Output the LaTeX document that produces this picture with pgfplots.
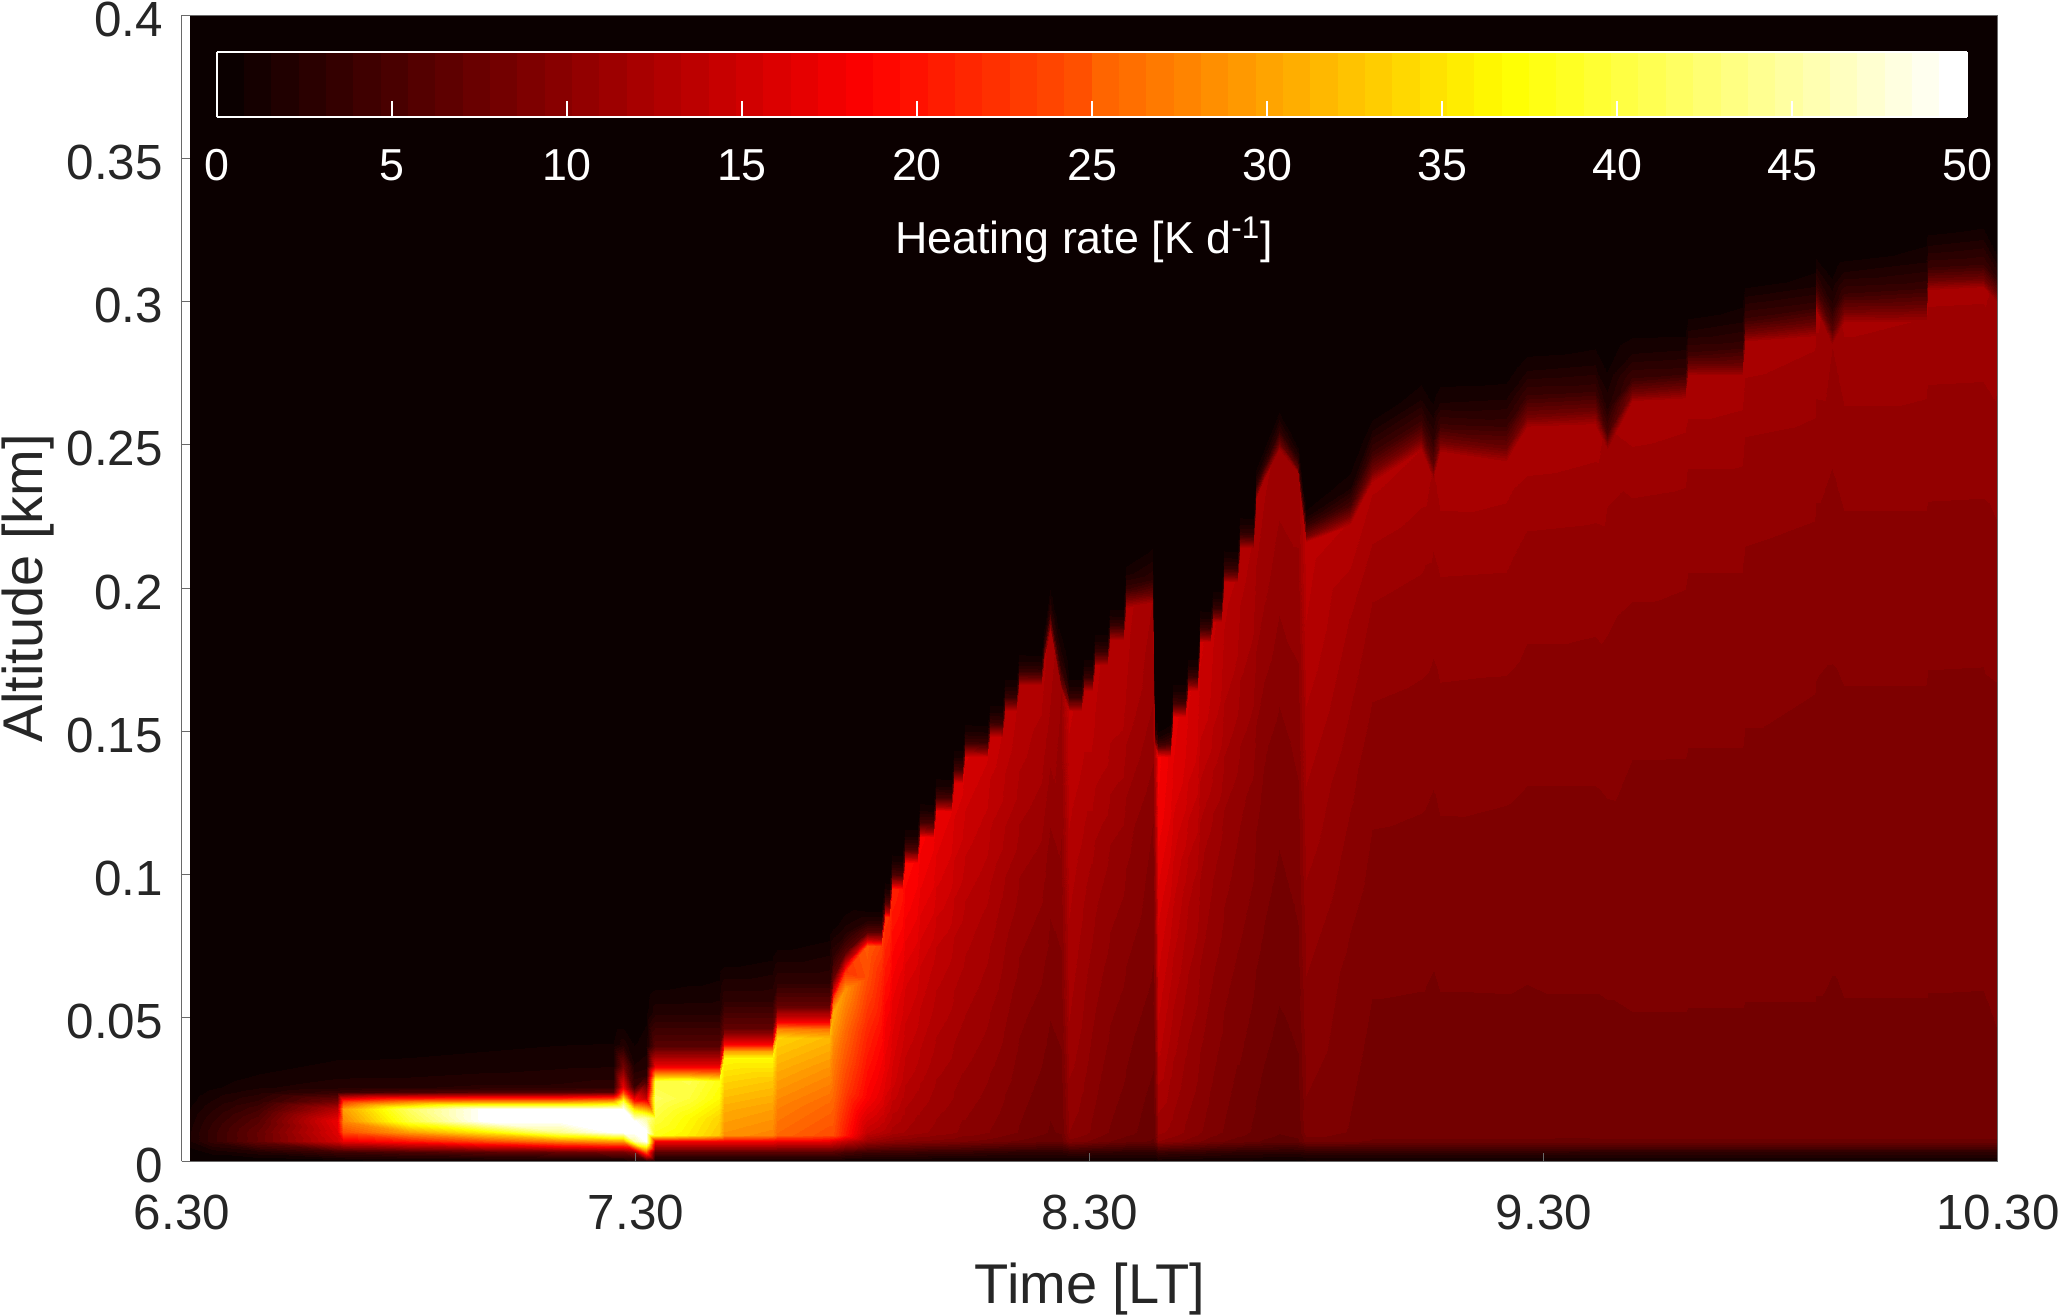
\documentclass[border=0pt]{standalone}
\usepackage{fontspec}
\setmainfont{Liberation Sans}
\usepackage{pgfplots}
\pgfplotsset{compat=1.18}
\definecolor{tc}{RGB}{38,38,38}
\definecolor{fr}{RGB}{105,105,105}
\pgfplotsset{
  colormap={hotbase}{rgb(0pt)=(0.0417,0,0); rgb(23pt)=(1,0,0); rgb(47pt)=(1,1,0); rgb(63pt)=(1,1,1)},
  colormap={hot64}{samples of colormap=(65 of hotbase)},
}
\newcommand{\cbfont}{\fontsize{22.4}{26}\selectfont}
\newcommand{\tickfont}{\fontsize{24.7}{28}\selectfont}
\newcommand{\labfont}{\fontsize{28}{32}\selectfont}
\begin{document}
\begin{tikzpicture}
\path[use as bounding box] (-91pt,-76.5pt) rectangle (938pt,580.5pt);
\begin{axis}[
  at={(0,0)}, anchor=south west,
  scale only axis, width=908pt, height=573pt,
  view={0}{90},
  xmin=0, xmax=240, ymin=0, ymax=400,
  xtick={0,60,120,180,240},
  xticklabels={6.30,7.30,8.30,9.30,10.30},
  ytick={0,50,100,150,200,250,300,350,400},
  yticklabels={0,0.05,0.1,0.15,0.2,0.25,0.3,0.35,0.4},
  ztick=\empty,
  tick align=inside, tick pos=left, major tick length=4pt,
  tick style={fr, line width=0.5pt},
  axis line style={fr, line width=0.5pt},
  axis on top,
  tick label style={font=\tickfont, text=tc},
  xticklabel style={yshift=-13.5pt},
  yticklabel style={xshift=-6pt, yshift=-2pt},
  xlabel={Time [LT]}, ylabel={Altitude [km]},
  label style={font=\labfont, text=tc},
  xlabel style={yshift=-9.6pt},
  ylabel shift=-0.6pt,
  colormap name=hot64,
  colormap access=piecewise constant,
  point meta min=0, point meta max=50,
  colorbar horizontal, colorbar sampled,
  colorbar style={
    at={(parent axis.north west)}, anchor=north west, xshift=17.5pt, yshift=-10pt,
    scale only axis, width=875pt, height=32.5pt,
    samples=65,
    xtick={0,5,10,15,20,25,30,35,40,45,50},
    xticklabels={0,5,10,15,20,25,30,35,40,45,50},
    ytick=\empty,
    tick align=inside, xtick pos=bottom, major tick length=8pt,
    tick style={white, line width=0.6pt},
    axis line style={white, line width=0.8pt},
    tick label style={font=\cbfont, text=white},
    xticklabel style={yshift=-12.6pt},
    xlabel={Heating rate [K d\textsuperscript{-1}]},
    xlabel style={font=\cbfont, text=white, yshift=-11.2pt, xshift=-4pt},
  },
]
% t = minutes after 6.30, h = altitude in m, v = heating rate
\addplot3[surf, shader=interp, mesh/ordering=y varies, mesh/rows=13] table[header=false] {
1 0 0
1 3 .3
1 7 1.5
1 10 1.5
1 14 1.2
1 18 .8
1 21 .5
1 24 .2
1 26 .1
1 28 0
1 30 0
1 32 0
1 400 0
4 0 0
4 3 1
4 7 3.5
4 10 3.5
4 14 3
4 18 2.2
4 21 1.6
4 24 1
4 26 .6
4 30 .2
4 33 0
4 35 0
4 400 0
10 0 0
10 3 2
10 7 7
10 10 7
10 14 6
10 18 4.5
10 21 3.2
10 24 2
10 26 1.4
10 30 .8
10 35 .3
10 40 0
10 400 0
20.5 0 .3
20.5 3 4
20.5 7 15
20.5 10 16
20.5 14 17
20.5 18 13
20.5 21 8
20.5 24 3.5
20.5 26 2
20.5 31 1.2
20.5 37 .6
20.5 42 0
20.5 400 0
21.3 0 .3
21.3 3 4
21.3 7 17
21.3 10 24
21.3 14 28
21.3 18 30
21.3 21 22
21.3 24 4
21.3 26 2
21.3 31 1.2
21.3 37 .6
21.3 42 0
21.3 400 0
30 0 .5
30 3 5
30 7 20
30 10 30
30 14 40
30 18 42
30 21 27
30 24 5
30 26 2.2
30 31 1.2
30 38 .6
30 43 0
30 400 0
40 0 .5
40 3 6
40 7 24
40 10 36
40 14 50
40 18 50
40 21 28
40 24 5.5
40 26 2.5
40 32 1.3
40 39 .7
40 45 0
40 400 0
50 0 .5
50 3 7
50 7 28
50 10 44
50 14 50
50 18 50
50 21 28
50 24 5.5
50 26 2.5
50 33 1.4
50 40 .8
50 47 0
50 400 0
57 0 .6
57 3 8
57 7 30
57 10 50
57 14 50
57 18 50
57 21 30
57 24 6
57 26 2.8
57 33 1.5
57 41 .8
57 50 0
57 400 0
58.3 0 .6
58.3 3 8
58.3 7 30
58.3 10 50
58.3 14 50
58.3 18 50
58.3 21 40
58.3 24 24
58.3 26 17
58.3 33 8
58.3 41 2
58.3 50 0
58.3 400 0
59.8 0 1
59.8 3 10
59.8 7 45
59.8 10 50
59.8 14 50
59.8 18 35
59.8 21 20
59.8 24 9
59.8 26 4
59.8 33 1.6
59.8 41 .7
59.8 52 0
59.8 400 0
61.3 0 2
61.3 3 25
61.3 7 50
61.3 10 50
61.3 15 45
61.3 22 14
61.3 28 5
61.3 30 3
61.3 33 2
61.3 40 1.2
61.3 52 .5
61.3 62 0
61.3 400 0
62.5 0 .5
62.5 3 6
62.5 7 18
62.5 9 38
62.5 15 40
62.5 22 42
62.5 28 40
62.5 30 30
62.5 33 17
62.5 40 6
62.5 52 2
62.5 65 0
62.5 400 0
67 0 .5
67 3 6
67 7 18
67 9 36
67 15 37
67 22 40
67 28 41
67 30 30
67 33 17
67 40 6
67 52 2
67 67 0
67 400 0
71 0 .5
71 3 6
71 7 18
71 9 33
71 15 34
71 22 37
71 28 38
71 30 29
71 33 17
71 40 6
71 52 2
71 70 0
71 400 0
71.6 0 .5
71.6 3 6
71.6 7 18
71.6 9 29
71.6 18 31
71.6 28 34
71.6 36 37
71.6 38.5 30
71.6 41 18
71.6 46 7
71.6 56 3
71.6 72 0
71.6 400 0
78 0 .5
78 3 6
78 7 18
78 9 28
78 18 30
78 28 33
78 36 37
78 38.5 30
78 41 18
78 46 7
78 56 3
78 75 0
78 400 0
78.6 0 .5
78.6 3 6
78.6 7 17
78.6 9 26
78.6 20 28
78.6 32 31
78.6 43 34
78.6 46 28
78.6 49 17
78.6 54 7
78.6 62 3
78.6 78 0
78.6 400 0
85.5 0 .5
85.5 3 6
85.5 7 17
85.5 9 24
85.5 20 26
85.5 32 29
85.5 43 32
85.5 46 27
85.5 49 17
85.5 54 7
85.5 62 3
85.5 82 0
85.5 400 0
86 0 .5
86 3 6
86 7 16
86 9 24
86 23 26
86 38 28
86 52 31
86 56 25
86 59 16
86 64 7
86 72 3
86 84 0
86 400 0
87.6 0 .5
87.6 3 5
87.6 7 14
87.6 9 20
87.6 25 23
87.6 45 26
87.6 60 29
87.6 66 22
87.6 69 14
87.6 73 6
87.6 80 2
87.6 90 0
87.6 400 0
90.5 0 .5
90.5 3 4
90.5 7 11
90.5 10 14
90.5 22 18
90.5 45 21
90.5 64 24
90.5 75 25
90.5 77 15
90.5 80 6
90.5 84 2
90.5 89 0
90.5 400 0
92.4 0 .5
92.4 3 4
92.4 7 10.3
92.4 10 13
92.4 22 16.3
92.4 45 19
92.4 64 21
92.4 75 23
92.4 77 14
92.4 80 6
92.4 84 2
92.4 89 0
92.4 400 0
92.9 0 .5
92.9 3 4
92.9 7 10
92.9 10 12.8
92.9 26 16
92.9 51 18
92.9 72 20.5
92.9 85 22
92.9 87 14
92.9 90 6
92.9 94 2
92.9 99 0
92.9 400 0
93.4 0 .5
93.4 3 4
93.4 7 9.9
93.4 10 12.4
93.4 26 15.5
93.4 51 17.5
93.4 72 20
93.4 85 21.5
93.4 87 13.5
93.4 90 5.6
93.4 94 1.8
93.4 99 0
93.4 400 0
93.8 0 .5
93.8 3 4
93.8 7 9.8
93.8 10 12
93.8 28 15
93.8 57 17
93.8 81 19.3
93.8 95 20.8
93.8 97 13
93.8 100 5.5
93.8 104 1.8
93.8 109 0
93.8 400 0
95.2 0 .5
95.2 3 4
95.2 7 9.5
95.2 10 11.6
95.2 28 13.8
95.2 57 15.8
95.2 81 18.4
95.2 95 19.6
95.2 97 12.6
95.2 100 5.2
95.2 104 1.7
95.2 109 0
95.2 400 0
95.6 0 .5
95.6 3 4
95.6 7 9.5
95.6 10 11.5
95.6 31 13.5
95.6 62 15.5
95.6 88 18
95.6 104 19
95.6 106 12.3
95.6 109 5.1
95.6 113 1.6
95.6 118 0
95.6 400 0
97.2 0 .5
97.2 3 3.8
97.2 7 9.2
97.2 10 11
97.2 31 12.9
97.2 62 14.8
97.2 88 17.2
97.2 104 18.2
97.2 106 11.8
97.2 109 5
97.2 113 1.6
97.2 118 0
97.2 400 0
97.6 0 .5
97.6 3 3.8
97.6 7 9.2
97.6 10 11
97.6 34 12.8
97.6 68 14.6
97.6 96 17
97.6 113 18
97.6 115 11.7
97.6 118 4.9
97.6 122 1.6
97.6 127 0
97.6 400 0
99.3 0 .5
99.3 3 3.5
99.3 7 9
99.3 10 10.6
99.3 34 12.1
99.3 68 13.8
99.3 96 16.2
99.3 113 17.2
99.3 115 11.2
99.3 118 4.7
99.3 122 1.5
99.3 127 0
99.3 400 0
99.7 0 .5
99.7 3 3.5
99.7 7 9
99.7 10 10.5
99.7 37 12
99.7 73 13.7
99.7 104 16
99.7 122 17
99.7 124 11.1
99.7 127 4.6
99.7 131 1.5
99.7 136 0
99.7 400 0
101.6 0 .5
101.6 3 3.5
101.6 7 8.8
101.6 10 10.2
101.6 37 11.6
101.6 73 13.2
101.6 104 15.2
101.6 122 16.2
101.6 124 10.6
101.6 127 4.4
101.6 131 1.4
101.6 136 0
101.6 400 0
102 0 .5
102 3 3.5
102 7 8.8
102 10 10.1
102 40 11.5
102 79 13.1
102 112 15
102 132 16
102 134 10.5
102 137 4.4
102 141 1.4
102 146 0
102 400 0
103.1 0 .5
103.1 3 3.5
103.1 7 8.5
103.1 10 9.8
103.1 40 11.2
103.1 79 12.8
103.1 112 14.6
103.1 132 15.6
103.1 134 10.3
103.1 137 4.3
103.1 141 1.4
103.1 146 0
103.1 400 0
103.5 0 .5
103.5 3 3.5
103.5 7 8.5
103.5 10 9.8
103.5 42 11.2
103.5 85 12.8
103.5 120 14.5
103.5 141 15.5
103.5 143 10.2
103.5 146 4.2
103.5 150 1.4
103.5 155 0
103.5 400 0
106.4 0 .5
106.4 3 3.2
106.4 7 8.2
106.4 10 9.3
106.4 42 10.6
106.4 85 12.1
106.4 120 13.7
106.4 141 14.7
106.4 143 9.7
106.4 146 4
106.4 150 1.3
106.4 155 0
106.4 400 0
106.8 0 .5
106.8 3 3.2
106.8 7 8.2
106.8 10 9.2
106.8 44 10.5
106.8 89 12
106.8 126 13.5
106.8 148 14.5
106.8 150 9.6
106.8 153 4
106.8 157 1.3
106.8 162 0
106.8 400 0
108.4 0 .5
108.4 3 3.1
108.4 7 7.9
108.4 10 8.9
108.4 44 10.1
108.4 89 11.4
108.4 126 13.1
108.4 148 13.8
108.4 150 9.2
108.4 153 3.8
108.4 157 1.2
108.4 162 0
108.4 400 0
108.8 0 .5
108.8 3 3.1
108.8 7 7.8
108.8 10 8.8
108.8 47 10
108.8 94 11.3
108.8 133 13
108.8 157 13.7
108.8 159 9.1
108.8 162 3.8
108.8 166 1.2
108.8 171 0
108.8 400 0
110.2 0 .5
110.2 3 3
110.2 7 7.6
110.2 10 8.5
110.2 47 9.5
110.2 94 10.9
110.2 133 12.6
110.2 157 13.1
110.2 159 8.8
110.2 162 3.6
110.2 166 1.2
110.2 171 0
110.2 400 0
110.6 0 .5
110.6 3 3
110.6 7 7.6
110.6 10 8.4
110.6 50 9.4
110.6 100 10.8
110.6 141 12.5
110.6 166 13
110.6 168 8.7
110.6 171 3.6
110.6 175 1.2
110.6 180 0
110.6 400 0
113.5 0 .5
113.5 3 3
113.5 7 7.2
113.5 10 7.9
113.5 50 8.9
113.5 100 10.3
113.5 141 11.9
113.5 166 12.6
113.5 168 8.5
113.5 171 3.5
113.5 175 1.1
113.5 180 0
113.5 400 0
113.9 0 .5
113.9 3 3
113.9 7 7.2
113.9 10 7.8
113.9 52 8.8
113.9 105 10.2
113.9 149 11.8
113.9 175 12.5
113.9 177 8.4
113.9 180 3.5
113.9 184 1.1
113.9 190 0
113.9 400 0
114.7 0 .5
114.7 3 3
114.7 7 7
114.7 10 7.6
114.7 55 8.6
114.7 111 9.8
114.7 157 11.5
114.7 185 12
114.7 188 7.5
114.7 192 3
114.7 198 1
114.7 205 0
114.7 400 0
116.2 0 .5
116.2 3 3
116.2 7 7.2
116.2 10 7.8
116.2 50 8.7
116.2 99 9.8
116.2 140 10.4
116.2 165 10.8
116.2 167 7
116.2 172 3
116.2 180 1
116.2 195 0
116.2 400 0
117.2 0 .5
117.2 3 3.5
117.2 7 9
117.2 10 10
117.2 47 11.5
117.2 94 12.5
117.2 133 13.5
117.2 157 14
117.2 159 9
117.2 162 3.8
117.2 166 1.2
117.2 171 0
117.2 400 0
118.8 0 .5
118.8 3 3.4
118.8 7 8.7
118.8 10 9.6
118.8 47 10.8
118.8 94 11.8
118.8 133 13
118.8 157 13.5
118.8 159 9
118.8 162 3.8
118.8 166 1.2
118.8 171 0
118.8 400 0
119.2 0 .5
119.2 3 3.4
119.2 7 8.6
119.2 10 9.5
119.2 49 10.6
119.2 98 11.7
119.2 139 13
119.2 164 13.5
119.2 166 9
119.2 169 3.8
119.2 173 1.2
119.2 178 0
119.2 400 0
120.2 0 .5
120.2 3 3.2
120.2 7 8.3
120.2 10 9.1
120.2 49 10.1
120.2 98 11.3
120.2 139 13
120.2 164 13.3
120.2 166 8.9
120.2 169 3.7
120.2 173 1.2
120.2 178 0
120.2 400 0
120.6 0 .5
120.6 3 3.2
120.6 7 8.2
120.6 10 9
120.6 52 10
120.6 104 11.2
120.6 147 13
120.6 173 13.2
120.6 175 8.8
120.6 178 3.7
120.6 182 1.2
120.6 187 0
120.6 400 0
122.3 0 .5
122.3 3 3.1
122.3 7 7.8
122.3 10 8.5
122.3 52 9.5
122.3 104 10.8
122.3 147 12.7
122.3 173 12.9
122.3 175 8.6
122.3 178 3.6
122.3 182 1.2
122.3 187 0
122.3 400 0
122.7 0 .5
122.7 3 3.1
122.7 7 7.7
122.7 10 8.4
122.7 55 9.4
122.7 109 10.7
122.7 155 12.7
122.7 182 12.8
122.7 184 8.6
122.7 187 3.6
122.7 191 1.1
122.7 196 0
122.7 400 0
124.4 0 .5
124.4 3 3
124.4 7 7.4
124.4 10 8.1
124.4 55 9.1
124.4 109 10.4
124.4 155 12.5
124.4 182 12.6
124.4 184 8.4
124.4 187 3.5
124.4 191 1.1
124.4 196 0
124.4 400 0
124.8 0 .5
124.8 3 3
124.8 7 7.3
124.8 10 8
124.8 58 9
124.8 116 10.3
124.8 164 12.3
124.8 193 12.6
124.8 196 8
124.8 200 3.5
124.8 206 1
124.8 213 0
124.8 400 0
128.3 0 .5
128.3 3 3
128.3 7 6.8
128.3 10 7.2
128.3 58 8.3
128.3 117 9.2
128.3 166 11
128.3 195 11.5
128.3 198 7.5
128.3 203 3
128.3 212 1
128.3 222 0
128.3 400 0
128.6 0 .4
128.6 3 3
128.6 7 7.5
128.6 10 8
128.6 44 9.3
128.6 87 10.6
128.6 123 12.2
128.6 145 12.5
128.6 147 7
128.6 149 3
128.6 153 1
128.6 158 0
128.6 400 0
129 0 1
129 3 4
129 7 10
129 10 11
129 42 13.5
129 85 15.5
129 120 17.5
129 141 18
129 143 11
129 145 5
129 148 1.5
129 152 0
129 400 0
130.6 0 .6
130.6 3 3.7
130.6 7 9.6
130.6 10 10.6
130.6 42 12.2
130.6 85 14.2
130.6 120 16.2
130.6 141 16.7
130.6 143 10.8
130.6 146 4.5
130.6 150 1.4
130.6 155 0
130.6 400 0
131 0 .6
131 3 3.7
131 7 9.5
131 10 10.5
131 46 12
131 93 14
131 132 16
131 155 16.5
131 157 10.7
131 160 4.4
131 164 1.4
131 169 0
131 400 0
132.6 0 .6
132.6 3 3.6
132.6 7 9.1
132.6 10 9.9
132.6 46 11.1
132.6 93 12.8
132.6 132 15.2
132.6 155 15.7
132.6 157 10.2
132.6 160 4.2
132.6 164 1.4
132.6 169 0
132.6 400 0
133 0 .6
133 3 3.6
133 7 9
133 10 9.8
133 49 11
133 98 12.6
133 139 15
133 164 15.5
133 166 10
133 169 4.2
133 173 1.3
133 178 0
133 400 0
134.1 0 .6
134.1 3 3.5
134.1 7 8.7
134.1 10 9.5
134.1 49 10.6
134.1 98 12.1
134.1 139 14.5
134.1 164 15
134.1 166 9.7
134.1 169 4
134.1 173 1.3
134.1 178 0
134.1 400 0
134.5 0 .6
134.5 3 3.5
134.5 7 8.5
134.5 10 9.3
134.5 54 10.4
134.5 109 11.8
134.5 154 14.2
134.5 181 14.8
134.5 183 9.6
134.5 186 4
134.5 190 1.3
134.5 195 0
134.5 400 0
135.9 0 .5
135.9 3 3.3
135.9 7 8.1
135.9 10 8.9
135.9 54 9.9
135.9 109 11.2
135.9 154 13.7
135.9 181 14.2
135.9 183 9.2
135.9 186 3.8
135.9 190 1.2
135.9 195 0
135.9 400 0
136.3 0 .5
136.3 3 3.3
136.3 7 8
136.3 10 8.8
136.3 56 9.8
136.3 113 11.1
136.3 160 13.5
136.3 188 14
136.3 190 9.1
136.3 193 3.8
136.3 197 1.2
136.3 202 0
136.3 400 0
137.3 0 .5
137.3 3 3.2
137.3 7 7.8
137.3 10 8.5
137.3 56 9.5
137.3 113 10.8
137.3 160 13
137.3 188 13.5
137.3 190 8.8
137.3 193 3.7
137.3 197 1.2
137.3 202 0
137.3 400 0
137.7 0 .5
137.7 3 3.2
137.7 7 7.7
137.7 10 8.4
137.7 61 9.4
137.7 121 10.7
137.7 172 12.8
137.7 202 13.4
137.7 204 8.7
137.7 207 3.6
137.7 211 1.2
137.7 216 0
137.7 400 0
139.4 0 .5
139.4 3 3
139.4 7 7.4
139.4 10 8
139.4 61 9
139.4 121 10.2
139.4 172 12.2
139.4 202 13
139.4 204 8.4
139.4 207 3.5
139.4 211 1.1
139.4 216 0
139.4 400 0
139.8 0 .5
139.8 3 3
139.8 7 7.4
139.8 10 8
139.8 64 9
139.8 128 10.2
139.8 182 12
139.8 214 12.8
139.8 216 8.3
139.8 219 3.5
139.8 223 1.1
139.8 228 0
139.8 400 0
141.5 0 .5
141.5 3 2.9
141.5 7 7.1
141.5 10 7.6
141.5 64 8.6
141.5 128 9.8
141.5 182 11.5
141.5 214 12.2
141.5 216 7.8
141.5 219 3.3
141.5 223 1
141.5 228 0
141.5 400 0
141.9 0 .5
141.9 3 2.9
141.9 7 7
141.9 10 7.5
141.9 69 8.5
141.9 139 9.6
141.9 196 11.3
141.9 231 12
141.9 233 7.7
141.9 236 3.2
141.9 240 1
141.9 245 0
141.9 400 0
143 0 .5
143 3 2.8
143 7 6.8
143 10 7.3
143 71 8.3
143 143 9.3
143 202 11
143 238 11.7
143 240 7.4
143 243 3.1
143 247 1
143 252 0
143 400 0
145 0 .5
145 3 2.8
145 7 6.6
145 10 7
145 74 8
145 149 9
145 211 10.5
145 248 11.3
145 251 7
145 255 3
145 260 1
145 266 0
145 400 0
147.5 0 .5
147.5 3 2.8
147.5 7 6.8
147.5 10 7.2
147.5 72 8.3
147.5 144 9.4
147.5 204 10.6
147.5 240 11.2
147.5 242 6
147.5 245 2.5
147.5 249 .8
147.5 252 0
147.5 400 0
148.6 0 .5
148.6 3 3.2
148.6 7 8
148.6 10 9
148.6 65 10
148.6 130 11.5
148.6 184 13
148.6 216 13.5
148.6 218 8
148.6 222 3.5
148.6 226 1
148.6 232 0
148.6 400 0
154.4 0 .5
154.4 3 3.2
154.4 7 7.8
154.4 10 8.4
154.4 67 9
154.4 133 10.2
154.4 189 11.5
154.4 222 13
154.4 225 8.5
154.4 229 4.5
154.4 235 1.5
154.4 245 0
154.4 400 0
157.3 0 .5
157.3 3 3.2
157.3 7 7.6
157.3 10 8
157.3 71 8.6
157.3 142 9.6
157.3 201 10.9
157.3 237 12.5
157.3 241 8
157.3 247 4
157.3 255 1.5
157.3 262 0
157.3 400 0
163.8 0 .5
163.8 3 3.2
163.8 7 7.6
163.8 10 8
163.8 74 8.6
163.8 149 9.6
163.8 211 10.9
163.8 248 12.3
163.8 252 8
163.8 258 4
163.8 266 1.5
163.8 276 0
163.8 400 0
165.3 0 .5
165.3 3 3.2
165.3 7 7.6
165.3 10 8
165.3 71 8.5
165.3 143 9.4
165.3 202 10.5
165.3 238 11.4
165.3 243 6.5
165.3 252 3
165.3 262 1
165.3 272 0
165.3 400 0
166.2 0 .5
166.2 3 3.2
166.2 7 7.6
166.2 10 8
166.2 74 8.6
166.2 148 9.6
166.2 210 10.9
166.2 247 12.3
166.2 251 8
166.2 257 4
166.2 265 1.5
166.2 276 0
166.2 400 0
175 0 .5
175 3 3.2
175 7 7.6
175 10 8
175 73 8.6
175 146 9.5
175 207 10.8
175 244 12
175 249 7.5
175 257 3.6
175 267 1.3
175 278 0
175 400 0
177.7 0 .5
177.7 3 3.2
177.7 7 7.6
177.7 10 8
177.7 77 8.6
177.7 154 9.5
177.7 218 10.7
177.7 256 12.2
177.7 260 8
177.7 267 4
177.7 276 1.5
177.7 286 0
177.7 400 0
186.8 0 .5
186.8 3 3
186.8 7 7.5
186.8 10 8.1
186.8 77 8.6
186.8 154 9.5
186.8 218 10.6
186.8 257 12
186.8 262 7.5
186.8 269 3.6
186.8 279 1.3
186.8 290 0
186.8 400 0
188.3 0 .5
188.3 3 3
188.3 7 7.5
188.3 10 8.1
188.3 74 8.6
188.3 149 9.5
188.3 211 10.4
188.3 248 11.2
188.3 254 5
188.3 263 2.2
188.3 275 .8
188.3 288 0
188.3 400 0
191.6 0 .5
191.6 3 3
191.6 7 7.5
191.6 10 8.1
191.6 80 8.7
191.6 159 9.4
191.6 225 10.5
191.6 265 12.2
191.6 268 8
191.6 273 4
191.6 282 1.5
191.6 293 0
191.6 400 0
198.6 0 .5
198.6 3 3
198.6 7 7.5
198.6 10 8.1
198.6 80 8.7
198.6 160 9.4
198.6 226 10.4
198.6 266 12
198.6 270 7.5
198.6 275 3.6
198.6 284 1.3
198.6 293 0
198.6 400 0
199 0 .5
199 3 3
199 7 7.5
199 10 8.1
199 82 8.7
199 164 9.4
199 233 10.4
199 274 12.2
199 277 8
199 282 4
199 290 1.5
199 298 0
199 400 0
206.2 0 .5
206.2 3 3
206.2 7 7.5
206.2 10 8.1
206.2 82 8.7
206.2 164 9.4
206.2 233 10.4
206.2 274 12
206.2 278 7.5
206.2 284 3.6
206.2 294 1.3
206.2 304 0
206.2 400 0
206.6 0 .5
206.6 3 3
206.6 7 7.5
206.6 10 8.1
206.6 86 8.7
206.6 172 9.4
206.6 243 10.4
206.6 286 12
206.6 289 8
206.6 294 4
206.6 302 1.5
206.6 308 0
206.6 400 0
215.8 0 .5
215.8 3 3
215.8 7 7.5
215.8 10 8.1
215.8 86 8.7
215.8 173 9.3
215.8 245 10.3
215.8 288 11.7
215.8 292 7.5
215.8 298 3.6
215.8 306 1.3
215.8 316 0
215.8 400 0
216 0 .5
216 3 3
216 7 7.5
216 10 8.1
216 89 8.7
216 178 9.3
216 252 10.3
216 297 11.8
216 300 8
216 305 4
216 312 1.5
216 318 0
216 400 0
218 0 .5
218 3 3
218 7 7.5
218 10 8.1
218 86 8.6
218 171 9.2
218 242 10
218 285 10.8
218 290 6
218 298 2.6
218 308 .8
218 317 0
218 400 0
219.6 0 .5
219.6 3 3
219.6 7 7.5
219.6 10 8.1
219.6 88 8.7
219.6 176 9.3
219.6 249 10.3
219.6 293 11.7
219.6 297 7.8
219.6 303 3.8
219.6 311 1.4
219.6 318 0
219.6 400 0
230.5 0 .5
230.5 3 3
230.5 7 7.5
230.5 10 8.1
230.5 88 8.7
230.5 176 9.3
230.5 249 10.3
230.5 293 11.5
230.5 298 7.5
230.5 305 3.6
230.5 315 1.3
230.5 326 0
230.5 400 0
230.8 0 .5
230.8 3 3
230.8 7 7.5
230.8 10 8.1
230.8 91 8.7
230.8 182 9.3
230.8 258 10.4
230.8 304 11.7
230.8 307 7.8
230.8 312 3.8
230.8 320 1.4
230.8 327 0
230.8 400 0
238 0 .5
238 3 3
238 7 7.5
238 10 8.1
238 92 8.7
238 183 9.3
238 259 10.4
238 305 11.7
238 308 7.8
238 313 3.8
238 322 1.4
238 330 0
238 400 0
240 0 .5
240 3 3
240 7 7.5
240 10 8.2
240 90 8.8
240 179 9.3
240 254 10.5
240 299 11.3
240 303 7
240 308 3
240 314 1
240 318 0
240 400 0
};
\end{axis}
\end{tikzpicture}
\end{document}
